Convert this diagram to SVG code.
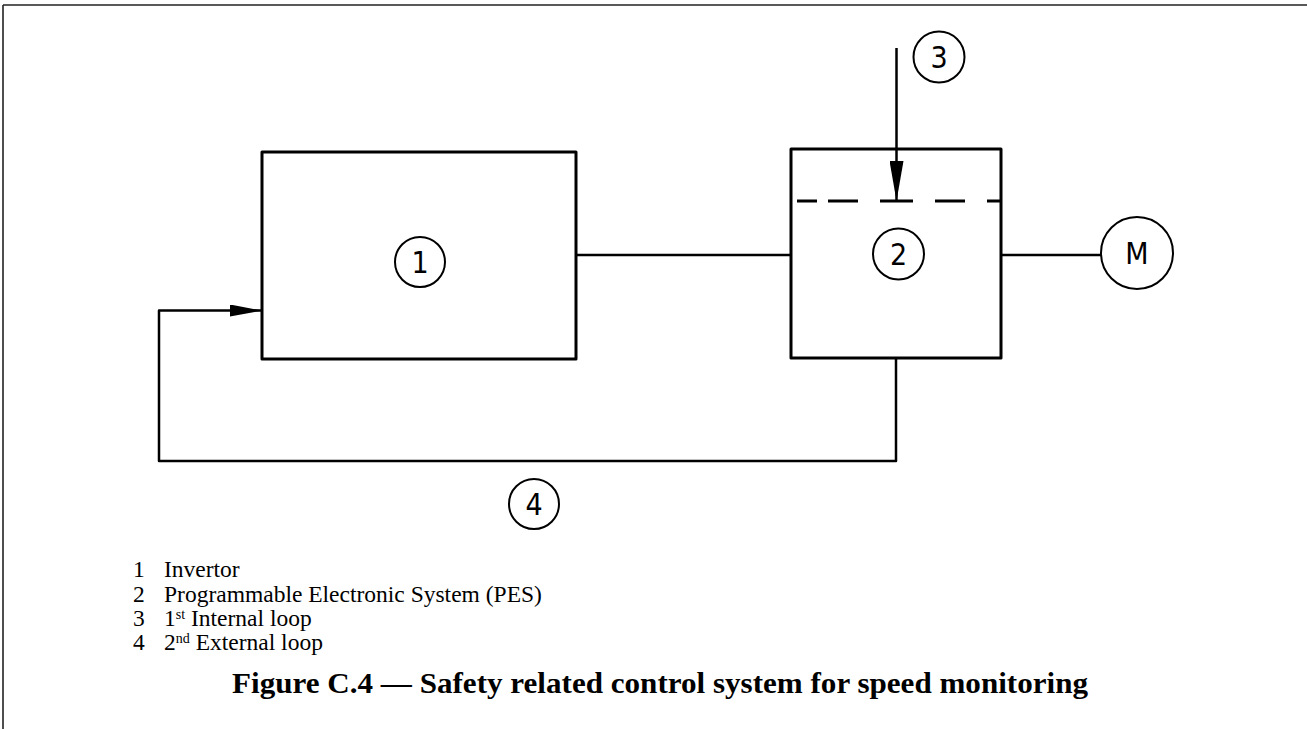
<svg xmlns="http://www.w3.org/2000/svg" width="1307" height="729" viewBox="0 0 1307 729">
<style>
.box{fill:none;stroke:#000;stroke-width:3;stroke-linejoin:round}
.ln{fill:none;stroke:#000;stroke-width:2.5;stroke-linejoin:round}
.dash{fill:none;stroke:#000;stroke-width:3}
.cir{fill:#fff;stroke:#000;stroke-width:2}
.num{font-family:"DejaVu Sans Condensed","DejaVu Sans",sans-serif;font-size:30px;text-anchor:middle;fill:#000}
.leg{font-family:"Liberation Serif","Times New Roman",serif;font-size:23.5px;fill:#000}
.sup{font-size:14px}
.title{font-family:"Liberation Serif","Times New Roman",serif;font-size:30px;font-weight:bold;fill:#000}
</style>
<defs>
<marker id="ah" viewBox="0 0 40 14" refX="40" refY="7" markerWidth="40" markerHeight="14" markerUnits="userSpaceOnUse" orient="auto">
<path d="M0,0 L40,7 L0,14 Z" fill="#000"/>
</marker>
<marker id="ah2" viewBox="0 0 32 12" refX="32" refY="6" markerWidth="32" markerHeight="12" markerUnits="userSpaceOnUse" orient="auto">
<path d="M0,0 L32,6 L0,12 Z" fill="#000"/>
</marker>
</defs>
<rect width="1307" height="729" fill="#fff"/>
<g id="frame">
<line x1="3" y1="5" x2="1307" y2="5" stroke="#222" stroke-width="1.6"/>
<line x1="3" y1="5" x2="3" y2="729" stroke="#222" stroke-width="1.6"/>
</g>
<g id="connectors">
<line class="ln" x1="576" y1="255" x2="791" y2="255"/>
<line class="ln" x1="1001" y1="255" x2="1101" y2="255"/>
<polyline class="ln" points="896,358 896,461 159,461 159,310.5 262,310.5" marker-end="url(#ah2)"/>
<line class="ln" x1="896.5" y1="48" x2="896.5" y2="201" marker-end="url(#ah)"/>
</g>
<g id="node1">
<rect class="box" x="262" y="152" width="314" height="207"/>
<circle class="cir" cx="420" cy="262" r="25"/>
<text class="num" x="420" y="273">1</text>
</g>
<g id="node2">
<rect class="box" x="791" y="149" width="210" height="209"/>
<path class="dash" d="M797 201H817M828 201H858M880 201H913M935 201H965M987 201H1000"/>
<circle class="cir" cx="898.5" cy="254" r="25.5"/>
<text class="num" x="898.5" y="265">2</text>
</g>
<g id="node3">
<circle class="cir" cx="939" cy="57" r="25.5"/>
<text class="num" x="939" y="68">3</text>
</g>
<g id="nodeM">
<circle class="cir" cx="1137" cy="253" r="36"/>
<text class="num" x="1137" y="264">M</text>
</g>
<g id="node4">
<circle class="cir" cx="534" cy="504" r="25"/>
<text class="num" x="534" y="515">4</text>
</g>
<g id="legend">
<text class="leg" x="133" y="577">1</text>
<text class="leg" x="164" y="577">Invertor</text>
<text class="leg" x="133" y="601.5">2</text>
<text class="leg" x="164" y="601.5">Programmable Electronic System (PES)</text>
<text class="leg" x="133" y="626">3</text>
<text class="leg" x="164" y="626">1<tspan class="sup" dy="-7">st</tspan><tspan dy="7"> Internal loop</tspan></text>
<text class="leg" x="133" y="650">4</text>
<text class="leg" x="164" y="650">2<tspan class="sup" dy="-7">nd</tspan><tspan dy="7"> External loop</tspan></text>
</g>
<text class="title" x="232" y="693" textLength="856" lengthAdjust="spacingAndGlyphs">Figure C.4 — Safety related control system for speed monitoring</text>
</svg>
